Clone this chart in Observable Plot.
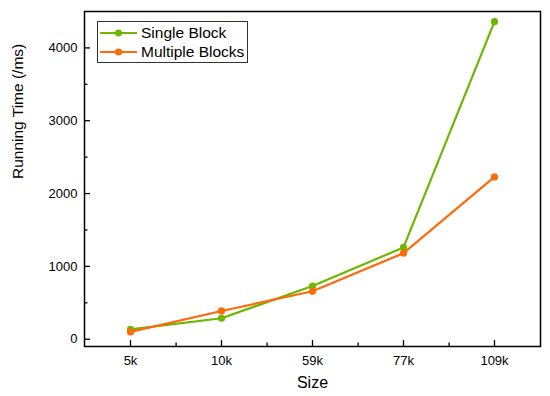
<!DOCTYPE html>
<html>
<head>
<meta charset="utf-8">
<script src="https://cdn.jsdelivr.net/npm/d3@7"></script>
<script src="https://cdn.jsdelivr.net/npm/@observablehq/plot@0.6"></script>
<style>
  html, body { margin: 0; padding: 0; background: #fff; }
  #wrap { position: relative; width: 550px; height: 396px; font-family: "Liberation Sans", Arial, sans-serif; }
  #legend { position: absolute; left: 97px; top: 21px; width: 151px; height: 42px; border: 1px solid #333; box-sizing: border-box; background: #fff; padding-top: 1px; }
  .row { display: flex; align-items: center; height: 19px; font-size: 15.5px; color: #000; white-space: nowrap; }
  .row svg { margin-left: 2px; margin-right: 3px; flex: none; }
</style>
</head>
<body>
<div id="wrap"></div>
<script>
const sizes = ["5k", "10k", "59k", "77k", "109k"];
const singleBlock = [135, 288, 730, 1260, 4360];
const multipleBlocks = [100, 388, 658, 1182, 2228];
const seriesNames = ["Single Block", "Multiple Blocks"];
const seriesColors = ["#6db700", "#ff6a0a"];
const yMajorTicks = [0, 1000, 2000, 3000, 4000];
const yMinorTicks = [500, 1500, 2500, 3500];

const data = [];
sizes.forEach((s, i) => {
  data.push({size: s, time: singleBlock[i], series: seriesNames[0]});
  data.push({size: s, time: multipleBlocks[i], series: seriesNames[1]});
});

const W = 550, H = 396, ML = 84, MR = 10, MT = 11, MB = 50;
const halfStep = (W - ML - MR) / sizes.length / 2;

const chart = Plot.plot({
  width: W,
  height: H,
  marginLeft: ML,
  marginRight: MR,
  marginTop: MT,
  marginBottom: MB,
  style: {fontFamily: "'Liberation Sans', Arial, sans-serif", fontSize: "13px", color: "#000", background: "#fff"},
  x: {type: "point", domain: sizes, padding: 0.5, label: null},
  y: {domain: [-100, 4500], label: null},
  color: {domain: seriesNames, range: seriesColors},
  marks: [
    Plot.axisY(yMajorTicks, {tickSize: 0, tickPadding: 7, fontSize: 13, tickFormat: d3.format("d")}),
    Plot.axisY(yMajorTicks, {tickSize: -6, tickFormat: () => "", strokeWidth: 1.3}),
    Plot.axisY(yMinorTicks, {tickSize: -3.5, tickFormat: () => "", strokeWidth: 1.3}),
    Plot.axisX(sizes, {tickSize: 0, tickPadding: 9, fontSize: 13}),
    Plot.axisX(sizes, {tickSize: -6, tickFormat: () => "", strokeWidth: 1.3}),
    Plot.axisX(sizes.slice(0, -1), {tickSize: -3.5, tickFormat: () => "", strokeWidth: 1.3, dx: halfStep}),
    Plot.text(["Running Time (/ms)"], {frameAnchor: "left", dx: -66, rotate: -90, fontSize: 15.5, text: d => d}),
    Plot.text(["Size"], {frameAnchor: "bottom", dy: 30, fontSize: 16, lineAnchor: "top", text: d => d}),
    Plot.line(data, {x: "size", y: "time", stroke: "series", strokeWidth: 2.2}),
    Plot.dot(data, {x: "size", y: "time", fill: "series", r: 3.6}),
    Plot.frame({stroke: "#000", strokeWidth: 1.5})
  ]
});

const wrap = document.getElementById("wrap");
wrap.appendChild(chart);

const legend = document.createElement("div");
legend.id = "legend";
seriesNames.forEach((name, i) => {
  const row = document.createElement("div");
  row.className = "row";
  row.innerHTML = `<svg width="38" height="10"><line x1="0" y1="5" x2="37" y2="5" stroke="${seriesColors[i]}" stroke-width="2.2"/><circle cx="18.5" cy="5" r="3.6" fill="${seriesColors[i]}"/></svg><span>${name}</span>`;
  legend.appendChild(row);
});
wrap.appendChild(legend);
</script>
</body>
</html>
